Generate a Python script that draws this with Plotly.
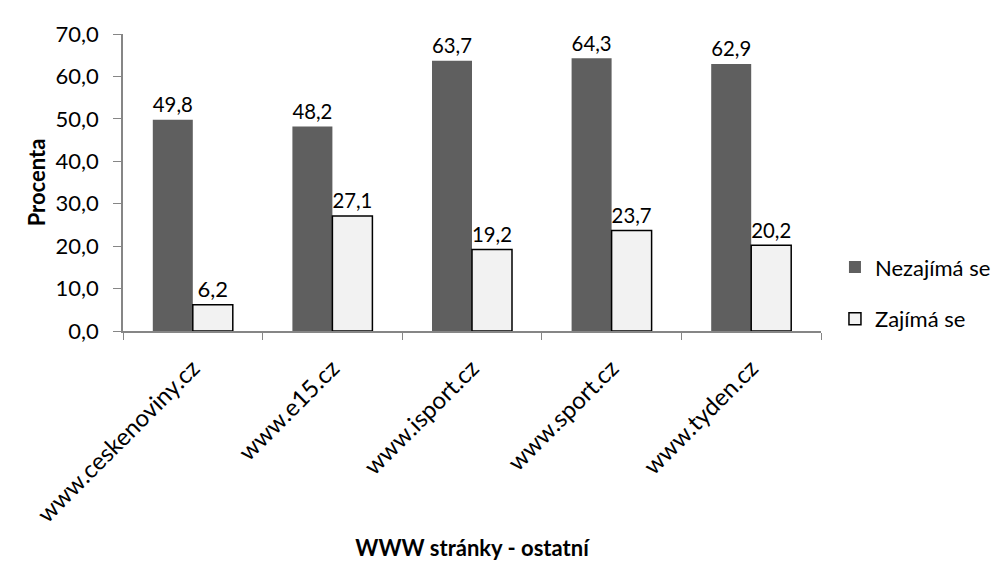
import plotly.graph_objects as go

categories = ["www.ceskenoviny.cz", "www.e15.cz", "www.isport.cz", "www.sport.cz", "www.tyden.cz"]
nezajima = [49.8, 48.2, 63.7, 64.3, 62.9]
zajima = [6.2, 27.1, 19.2, 23.7, 20.2]
y_ticks = [0, 10, 20, 30, 40, 50, 60, 70]

def fmt(v):
    return f"{v:.1f}".replace(".", ",")

FONT = "Lato, Carlito, Calibri, sans-serif"
FS = 22

fig = go.Figure()
fig.add_trace(go.Bar(
    x=categories, y=nezajima, name="Nezajímá se", legendgroup="a",
    marker=dict(color="#5f5f5f", line=dict(color="#5f5f5f", width=0)),
    text=[fmt(v) for v in nezajima], textposition="outside", cliponaxis=False,
    textfont=dict(size=FS, color="black"),
))
fig.add_trace(go.Bar(
    x=categories, y=zajima, name="Zajímá se", legendgroup="b",
    marker=dict(color="#f2f2f2", line=dict(color="black", width=1.5)),
    text=[fmt(v) for v in zajima], textposition="outside", cliponaxis=False,
    textfont=dict(size=FS, color="black"),
))

fig.update_layout(
    width=1005, height=561,
    margin=dict(l=115, r=192, t=25, b=237),
    paper_bgcolor="white", plot_bgcolor="white",
    font=dict(family=FONT, size=FS, color="black"),
    barmode="group", bargap=0.427, bargroupgap=0,
    showlegend=True,
    legend=dict(x=1.02, y=0.127, xanchor="left", yanchor="middle",
                font=dict(size=FS), tracegroupgap=20, itemwidth=30),
)
fig.update_yaxes(
    range=[0, 70], tickvals=y_ticks, ticktext=[fmt(v) for v in y_ticks],
    showgrid=False, zeroline=False, showline=True, linecolor="#868686", linewidth=1.5,
    ticks="outside", ticklen=8, tickcolor="#868686", ticklabelstandoff=10,
    title=dict(text="<b>Procenta</b>", font=dict(size=FS), standoff=4),
)
fig.update_xaxes(
    range=[-0.5, 4.5], tickangle=-45, tickson="boundaries",
    showgrid=False, showline=True, linecolor="#868686", linewidth=1.5,
    ticks="outside", ticklen=7, tickcolor="#868686", ticklabelstandoff=12,
    tickfont=dict(size=24),
    title=dict(text="<b>WWW stránky - ostatní</b>", font=dict(size=FS), standoff=14),
)

fig.write_html("out.html")
